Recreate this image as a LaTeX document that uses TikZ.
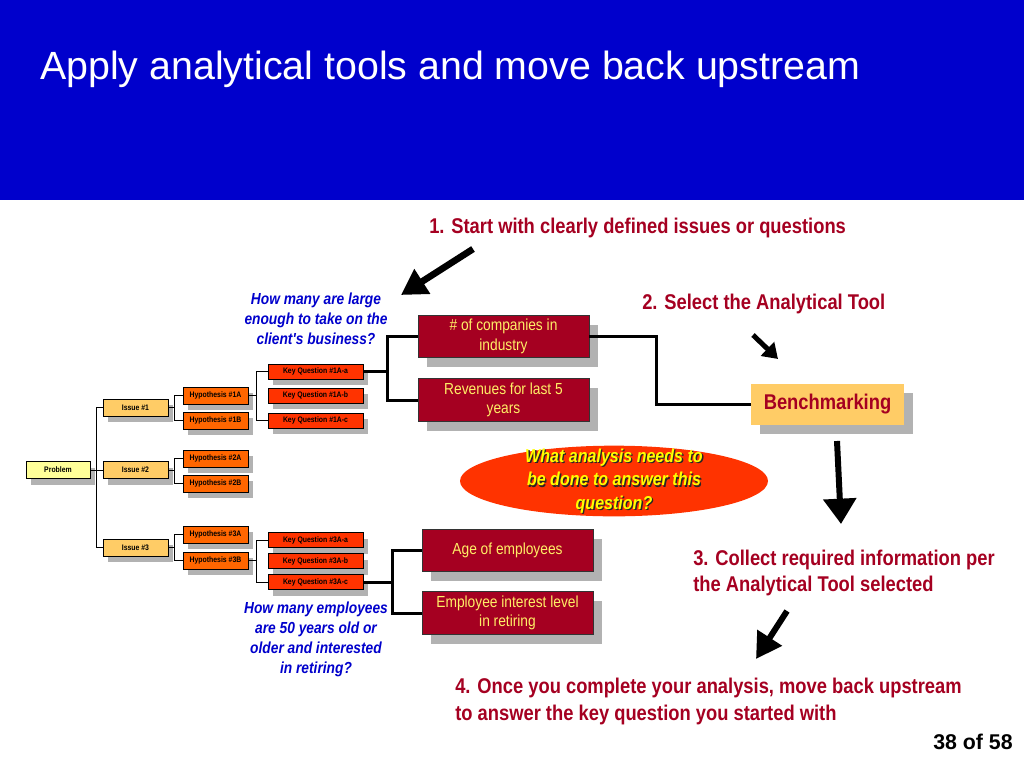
\documentclass[tikz,border=0pt]{standalone}
\usepackage{fontspec}
\setmainfont{Liberation Sans}
\newfontfamily\nar[FakeStretch=0.86]{Liberation Sans}
\usetikzlibrary{shapes.geometric,shadows,arrows.meta}
\definecolor{hdrblue}{RGB}{0,0,204}
\definecolor{dred}{RGB}{165,0,33}
\definecolor{boxyel}{RGB}{255,238,102}
\definecolor{probfill}{RGB}{255,255,153}
\definecolor{issuefill}{RGB}{255,204,102}
\definecolor{hypfill}{RGB}{255,102,0}
\definecolor{kqfill}{RGB}{255,51,0}
\definecolor{shgray}{RGB}{178,178,178}
\definecolor{txtblue}{RGB}{0,0,204}
\definecolor{ellyel}{RGB}{255,255,0}
\begin{document}
\begin{tikzpicture}[x=0.75pt,y=-0.75pt,
  smallbox/.style={draw=black, line width=0.6pt, inner sep=0pt, align=center,
    font=\nar\bfseries\fontsize{6}{7}\selectfont,
    drop shadow={shadow xshift=3.75pt, shadow yshift=-4.5pt, fill=shgray, opacity=1}},
  probbox/.style={smallbox, fill=probfill, minimum width=48pt, minimum height=12.75pt},
  issuebox/.style={smallbox, fill=issuefill, minimum width=48.75pt, minimum height=12.75pt},
  hypbox/.style={smallbox, fill=hypfill, minimum width=48.75pt, minimum height=12.75pt},
  kqbox/.style={smallbox, fill=kqfill, minimum width=71.25pt, minimum height=11.25pt},
  bigbox/.style={draw=black!80, line width=0.6pt, fill=dred, text=boxyel, inner sep=0pt, align=center,
    minimum width=128.25pt, minimum height=32pt,
    font=\nar\fontsize{12}{14.5}\selectfont,
    drop shadow={shadow xshift=6.75pt, shadow yshift=-7pt, fill=shgray, opacity=1}},
  benchbox/.style={fill=issuefill, text=dred, inner sep=0pt, minimum width=114.75pt, minimum height=30.75pt,
    font=\nar\bfseries\fontsize{16}{19}\selectfont,
    drop shadow={shadow xshift=7pt, shadow yshift=-7pt, fill=shgray, opacity=1}},
  conn/.style={line width=0.75pt, draw=black},
  thickconn/.style={line width=2.25pt, draw=black},
  medconn/.style={line width=1.9pt, draw=black},
  redlabel/.style={text=dred, inner sep=0pt, anchor=west, align=left,
    font=\nar\bfseries\fontsize{16}{19.5}\selectfont},
  bluetext/.style={text=txtblue, inner sep=0pt, align=center,
    font=\nar\bfseries\itshape\fontsize{12}{15}\selectfont},
  elltext/.style={inner sep=0pt, align=center, font=\nar\bfseries\itshape\fontsize{14}{17.5}\selectfont},
  bigarrow/.style={line width=5pt, draw=black, -{Triangle[length=19pt,width=21pt]}}
]
\useasboundingbox (0,0) rectangle (1024,768);
\fill[white] (0,0) rectangle (1024,768);
\fill[hdrblue] (0,0) rectangle (1024,200);
\node[anchor=west, inner sep=0pt, text=white, font=\fontsize{29.5}{35}\selectfont] (title) at (40,69) {Apply analytical tools and move back upstream};

% issue tree
\node[probbox] (prob) at (58,470) {Problem};
\node[issuebox] (issue1) at (135.5,407.5) {Issue \#1};
\node[issuebox] (issue2) at (135.5,470) {Issue \#2};
\node[issuebox] (issue3) at (135.5,547.5) {Issue \#3};
\node[hypbox] (hyp1A) at (215.5,395.5) {Hypothesis \#1A};
\node[hypbox] (hyp1B) at (215.5,420.5) {Hypothesis \#1B};
\node[hypbox] (hyp2A) at (215.5,458.5) {Hypothesis \#2A};
\node[hypbox] (hyp2B) at (215.5,483.5) {Hypothesis \#2B};
\node[hypbox] (hyp3A) at (215.5,534.5) {Hypothesis \#3A};
\node[hypbox] (hyp3B) at (215.5,560.5) {Hypothesis \#3B};
\node[kqbox] (kq1a) at (315.5,371.5) {Key Question \#1A-a};
\node[kqbox] (kq1b) at (315.5,395.5) {Key Question \#1A-b};
\node[kqbox] (kq1c) at (315.5,420.5) {Key Question \#1A-c};
\node[kqbox] (kq3a) at (315.5,540) {Key Question \#3A-a};
\node[kqbox] (kq3b) at (315.5,561) {Key Question \#3A-b};
\node[kqbox] (kq3c) at (315.5,582) {Key Question \#3A-c};

\draw[conn] (prob.east) -- (issue2.west);
\draw[conn] (issue1.west) -- ++(-6,0) |- (issue3.west);
\draw[conn] (issue1.east) -- ++(7,0);
\draw[conn] (hyp1A.west) -- ++(-8,0) |- (hyp1B.west);
\draw[conn] (issue2.east) -- ++(7,0);
\draw[conn] (hyp2A.west) -- ++(-8,0) |- (hyp2B.west);
\draw[conn] (issue3.east) -- ++(7,0);
\draw[conn] (hyp3A.west) -- ++(-8,0) |- (hyp3B.west);
\draw[conn] (hyp1A.east) -- ++(9,0);
\draw[conn] (kq1a.west) -- ++(-11,0) |- (kq1c.west);
\draw[conn] (hyp3B.east) -- ++(9,0);
\draw[conn] (kq3a.west) -- ++(-11,0) |- (kq3c.west);

% data boxes
\node[bigbox] (comp) at (503.5,336.5) {\# of companies in\\industry};
\node[bigbox] (rev) at (503.5,400) {Revenues for last 5\\years};
\node[bigbox] (age) at (507.5,550.5) {Age of employees};
\node[bigbox] (inter) at (507.5,613) {Employee interest level\\in retiring};
\node[benchbox] (bench) at (827.5,404.5) {Benchmarking};

\draw[thickconn] (kq1a.east) -- ++(25,0);
\draw[thickconn] (comp.west) -- ++(-30,0) |- (rev.west);
\draw[thickconn] (kq3c.east) -- ++(30,0);
\draw[thickconn] (age.west) -- ++(-29,0) |- (inter.west);
\draw[medconn] (comp.east) -- ++(67,0) |- (bench.west);

% ellipse
\node[ellipse, fill=kqfill, minimum width=231pt, minimum height=53pt, inner sep=0pt] (ell) at (614,481) {};
\node[elltext, text=black!85] (ellsh) at (615.3,482.3) {What analysis needs to\\be done to answer this\\question?};
\node[elltext, text=ellyel] (ellt) at (614,481) {What analysis needs to\\be done to answer this\\question?};

% blue questions
\node[bluetext] (q1) at (316,318.5) {How many are large\\enough to take on the\\client's business?};
\node[bluetext] (q2) at (316,639.5) {How many employees\\are 50 years old or\\older and interested\\in retiring?};

% red step labels
\node[redlabel] (s1) at (429,227.5) {1. Start with clearly defined issues or questions};
\node[redlabel] (s2) at (642,303.5) {2. Select the Analytical Tool};
\node[redlabel] (s3) at (693,573) {3. Collect required information per\\the Analytical Tool selected};
\node[redlabel, font=\nar\bfseries\fontsize{16}{20.25}\selectfont] (s4) at (455,701.5) {4. Once you complete your analysis, move back upstream\\to answer the key question you started with};

% arrows
\coordinate (a1s) at (473,249); \coordinate (a1e) at (401,295);
\coordinate (a2s) at (753,335); \coordinate (a2e) at (778,359);
\coordinate (a3s) at (837,441); \coordinate (a3e) at (841,524);
\coordinate (a4s) at (787,611); \coordinate (a4e) at (756,659);
\draw[bigarrow] (a1s) -- (a1e);
\draw[line width=3.75pt, -{Triangle[length=11pt,width=14pt]}] (a2s) -- (a2e);
\draw[line width=4.5pt, -{Triangle[length=19pt,width=24pt]}] (a3s) -- (a3e);
\draw[line width=4.5pt, -{Triangle[length=19pt,width=21pt]}] (a4s) -- (a4e);

\node[anchor=east, inner sep=0pt, font=\bfseries\fontsize{16}{19}\selectfont] (pg) at (1013,742) {38 of 58};
\end{tikzpicture}
\end{document}
